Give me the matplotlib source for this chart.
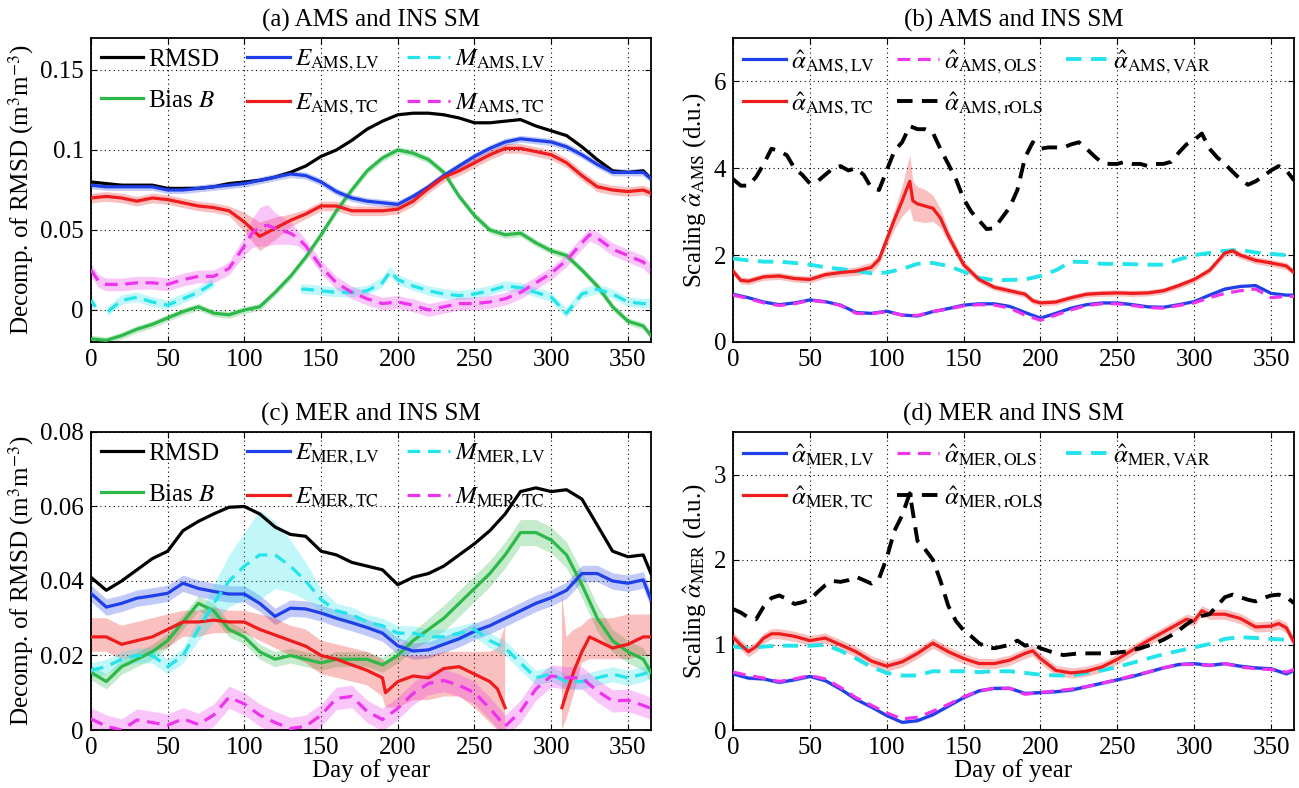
import numpy as np
import matplotlib
matplotlib.use("Agg")
import matplotlib.pyplot as plt

plt.rcParams['font.family'] = ['Liberation Serif', 'DejaVu Serif']
plt.rcParams['mathtext.fontset'] = 'stix'

# ---------------- common day grid ----------------
D10 = [0, 10, 20, 30, 40, 50, 60, 70, 80, 90, 100, 110, 120, 130, 140, 150, 160, 170, 180,
       190, 200, 210, 220, 230, 240, 250, 260, 270, 280, 290, 300, 310, 320, 330, 340, 350,
       360, 365]
D5 = list(range(0, 366, 5))

# ---------------- panel (a): AMS decomposition ----------------
rmsd_a = [0.080, 0.079, 0.078, 0.078, 0.078, 0.076, 0.076, 0.076, 0.077, 0.079, 0.080, 0.081,
          0.083, 0.086, 0.090, 0.096, 0.100, 0.106, 0.113, 0.118, 0.122, 0.123, 0.123, 0.122,
          0.120, 0.117, 0.117, 0.118, 0.119, 0.115, 0.112, 0.109, 0.102, 0.094, 0.087, 0.086,
          0.087, 0.082]
e_lv_a = [0.078, 0.077, 0.077, 0.077, 0.077, 0.075, 0.075, 0.076, 0.077, 0.078, 0.079, 0.081,
          0.083, 0.085, 0.084, 0.080, 0.074, 0.070, 0.068, 0.067, 0.066, 0.071, 0.077, 0.084,
          0.090, 0.096, 0.101, 0.105, 0.107, 0.106, 0.105, 0.102, 0.097, 0.091, 0.086, 0.086,
          0.086, 0.082]
e_tc_a = [0.070, 0.071, 0.070, 0.068, 0.070, 0.069, 0.067, 0.065, 0.064, 0.062, 0.055, 0.046,
          0.051, 0.056, 0.060, 0.065, 0.065, 0.062, 0.062, 0.062, 0.063, 0.068, 0.076, 0.083,
          0.087, 0.092, 0.097, 0.101, 0.101, 0.099, 0.097, 0.092, 0.084, 0.077, 0.075, 0.074,
          0.075, 0.073]
e_tc_a_hw = [0.003] * 10 + [0.006, 0.009, 0.007, 0.004] + [0.003] * 24
bias_a = [-0.018, -0.019, -0.016, -0.012, -0.009, -0.005, -0.001, 0.002, -0.002, -0.003, 0.000,
          0.002, 0.011, 0.021, 0.033, 0.047, 0.062, 0.075, 0.087, 0.095, 0.100, 0.098, 0.094,
          0.086, 0.071, 0.059, 0.050, 0.047, 0.048, 0.042, 0.037, 0.034, 0.025, 0.015, 0.002,
          -0.007, -0.010, -0.016]
m_lv_a_days = [0, 3, 6, 11, 20, 30, 40, 50, 60, 70, 80, 85, 137, 140, 150, 160, 170, 180, 190,
               195, 200, 210, 220, 230, 240, 250, 260, 270, 280, 290, 300, 310, 320, 330, 340,
               350, 360, 365]
m_lv_a = [0.006, 0.002, np.nan, -0.001, 0.006, 0.008, 0.005, 0.003, 0.007, 0.011, 0.017, np.nan,
          0.013, 0.013, 0.012, 0.011, 0.011, 0.012, 0.017, 0.024, 0.019, 0.015, 0.012, 0.010,
          0.009, 0.010, 0.012, 0.015, 0.014, 0.011, 0.008, -0.002, 0.010, 0.013, 0.010, 0.005,
          0.004, 0.004]
m_tc_a_days = [0, 5, 10, 20, 30, 40, 50, 60, 70, 80, 90, 100, 105, 110, 115, 120, 130, 135, 140,
               150, 160, 170, 180, 190, 200, 210, 220, 230, 240, 250, 260, 270, 280, 290, 300,
               310, 320, 325, 330, 340, 350, 360, 365]
m_tc_a = [0.025, 0.018, 0.016, 0.016, 0.017, 0.017, 0.016, 0.019, 0.021, 0.021, 0.026, 0.040,
          0.048, 0.052, 0.053, 0.051, 0.048, 0.045, 0.040, 0.027, 0.017, 0.011, 0.007, 0.004,
          0.005, 0.003, 0.000, 0.002, 0.004, 0.004, 0.005, 0.007, 0.011, 0.017, 0.023, 0.031,
          0.042, 0.047, 0.045, 0.038, 0.034, 0.030, 0.025]
m_tc_a_hw = [0.004] * 11 + [0.006, 0.009, 0.012, 0.013, 0.010, 0.007, 0.005, 0.004] + [0.004] * 24

# ---------------- panel (b): AMS scaling ----------------
a_lv_b = [1.10, 1.02, 0.92, 0.86, 0.90, 0.97, 0.93, 0.85, 0.68, 0.66, 0.71, 0.62, 0.60, 0.70,
          0.77, 0.85, 0.88, 0.88, 0.82, 0.68, 0.55, 0.66, 0.78, 0.86, 0.90, 0.90, 0.86, 0.81,
          0.80, 0.86, 0.93, 1.08, 1.22, 1.28, 1.30, 1.12, 1.08, 1.08]
a_ols_b = [1.08, 1.00, 0.90, 0.84, 0.88, 0.96, 0.92, 0.84, 0.66, 0.65, 0.70, 0.62, 0.61, 0.70,
           0.76, 0.83, 0.86, 0.85, 0.78, 0.62, 0.50, 0.62, 0.74, 0.84, 0.88, 0.88, 0.84, 0.79,
           0.78, 0.84, 0.90, 1.02, 1.12, 1.18, 1.22, 1.02, 1.05, 1.05]
a_tc_b_days = [0, 5, 10, 20, 30, 40, 50, 60, 70, 80, 90, 95, 100, 105, 110, 115, 117, 120, 125,
               130, 135, 140, 150, 160, 170, 180, 190, 195, 200, 210, 220, 230, 240, 250, 260,
               270, 280, 290, 300, 310, 320, 325, 330, 340, 350, 360, 365]
a_tc_b = [1.63, 1.42, 1.40, 1.50, 1.52, 1.46, 1.44, 1.55, 1.60, 1.63, 1.72, 1.90, 2.36, 2.82,
          3.25, 3.70, 3.25, 3.18, 3.13, 3.08, 2.85, 2.45, 1.78, 1.44, 1.26, 1.18, 1.10, 0.95,
          0.90, 0.92, 1.02, 1.10, 1.12, 1.13, 1.12, 1.13, 1.18, 1.30, 1.44, 1.65, 2.05, 2.10,
          2.00, 1.88, 1.82, 1.75, 1.60]
a_tc_b_hw = ([0.09, 0.08, 0.08, 0.08, 0.08, 0.08, 0.08, 0.08, 0.09, 0.10]
             + [0.12, 0.12, 0.15, 0.22, 0.35, 0.62, 0.45, 0.40, 0.38, 0.30]
             + [0.22, 0.15, 0.10, 0.08, 0.07, 0.07, 0.07, 0.07, 0.07, 0.07]
             + [0.07] * 10 + [0.08] * 7)
a_var_b = [1.92, 1.88, 1.85, 1.85, 1.82, 1.78, 1.72, 1.68, 1.64, 1.58, 1.60, 1.68, 1.80, 1.82,
           1.75, 1.62, 1.48, 1.42, 1.43, 1.44, 1.52, 1.65, 1.85, 1.84, 1.80, 1.80, 1.79, 1.78,
           1.78, 1.90, 2.00, 2.05, 2.10, 2.12, 2.06, 2.03, 2.00, 1.99]
a_rols_b = [3.75, 3.60, 3.60, 3.80, 4.10, 4.45, 4.40, 4.30, 4.00, 3.85,
            3.65, 3.70, 3.85, 4.00, 4.05, 3.95, 4.00, 3.85, 3.55, 3.50,
            3.95, 4.40, 4.60, 4.97, 4.90, 4.90, 4.82, 4.44, 4.10, 3.75,
            3.30, 3.00, 2.80, 2.60, 2.62, 2.86, 3.10, 3.50, 4.25, 4.60,
            4.45, 4.48, 4.48, 4.48, 4.55, 4.60, 4.45, 4.28, 4.13, 4.10,
            4.10, 4.15, 4.10, 4.10, 4.05, 4.10, 4.10, 4.15, 4.36, 4.55,
            4.65, 4.80, 4.45, 4.25, 4.10, 3.92, 3.75, 3.62, 3.70, 3.82,
            3.95, 4.05, 3.95, 3.72]

# ---------------- panel (c): MER decomposition ----------------
rmsd_c = [0.041, 0.0375, 0.040, 0.043, 0.046, 0.048, 0.0535, 0.056, 0.058, 0.0598, 0.060, 0.058,
          0.0545, 0.0525, 0.052, 0.048, 0.047, 0.045, 0.044, 0.043, 0.039, 0.041, 0.042, 0.044,
          0.047, 0.050, 0.0535, 0.058, 0.064, 0.065, 0.064, 0.0645, 0.062, 0.055, 0.048,
          0.0465, 0.047, 0.042]
e_lv_c = [0.0367, 0.033, 0.034, 0.0354, 0.036, 0.0367, 0.0394, 0.038, 0.0372, 0.0365, 0.0365,
          0.034, 0.0305, 0.0327, 0.0325, 0.0314, 0.030, 0.0288, 0.0275, 0.026, 0.0226, 0.0212,
          0.0215, 0.023, 0.0245, 0.0265, 0.028, 0.030, 0.032, 0.034, 0.0355, 0.0375, 0.042,
          0.042, 0.040, 0.0394, 0.0403, 0.035]
e_tc_c_days = [0, 10, 20, 30, 40, 50, 60, 70, 80, 90, 100, 110, 120, 130, 140, 150, 160, 170,
               180, 190, 192, 200, 210, 220, 230, 240, 250, 260, 265, 270, 271, 306, 307, 310,
               315, 320, 325, 330, 340, 350, 360, 365]
e_tc_c = [0.025, 0.025, 0.023, 0.024, 0.025, 0.027, 0.029, 0.029, 0.0295, 0.029,
          0.029, 0.027, 0.0255, 0.024, 0.0225, 0.020, 0.019, 0.0175, 0.016, 0.014,
          0.010, 0.013, 0.0145, 0.014, 0.0165, 0.017, 0.015, 0.013,
          0.011, 0.006, np.nan, np.nan, 0.006, 0.010, 0.016, 0.021, 0.025, 0.024,
          0.022, 0.023, 0.025, 0.025]
e_tc_c_lo = [0.021, 0.021, 0.019, 0.020, 0.021, 0.022, 0.025, 0.025, 0.026, 0.026,
             0.026, 0.024, 0.022, 0.020, 0.018, 0.015, 0.014, 0.013, 0.012, 0.009,
             0.006, 0.006, 0.008, 0.008, 0.009, 0.009, 0.006, 0.002,
             0.000, 0.000, np.nan, np.nan, 0.000, 0.003, 0.010, 0.018, 0.019, 0.019,
             0.019, 0.019, 0.020, 0.020]
e_tc_c_hi = [0.030, 0.030, 0.028, 0.029, 0.030, 0.031, 0.032, 0.032, 0.033, 0.032,
             0.032, 0.031, 0.030, 0.028, 0.027, 0.024, 0.023, 0.022, 0.021, 0.019,
             0.018, 0.020, 0.020, 0.020, 0.021, 0.021, 0.021, 0.021,
             0.022, 0.028, np.nan, np.nan, 0.037, 0.025, 0.027, 0.028, 0.030, 0.030,
             0.030, 0.031, 0.031, 0.031]
bias_c = [0.0155, 0.013, 0.017, 0.019, 0.021, 0.024, 0.029, 0.034, 0.032, 0.027, 0.025, 0.021,
          0.019, 0.020, 0.019, 0.018, 0.019, 0.019, 0.019, 0.0175, 0.020, 0.024, 0.027, 0.030,
          0.034, 0.038, 0.042, 0.047, 0.053, 0.053, 0.051, 0.047, 0.039, 0.030, 0.024, 0.021,
          0.019, 0.0155]
bias_c_hw = [0.002] * 21 + [0.0025, 0.003] + [0.0035] * 11 + [0.003] * 4
m_lv_c = [0.016, 0.017, 0.019, 0.020, 0.020, 0.017, 0.020, 0.027, 0.034, 0.040, 0.044, 0.047,
          0.047, 0.044, 0.040, 0.035, 0.032, 0.031, 0.029, 0.028, 0.026, 0.026, 0.025, 0.025,
          0.026, 0.027, 0.024, 0.022, 0.018, 0.014, 0.015, 0.013, 0.013, 0.014, 0.015, 0.014,
          0.015, 0.016]
m_lv_c_hw = ([0.002] * 7 + [0.003, 0.005, 0.007, 0.009, 0.012, 0.009, 0.007, 0.005, 0.003]
             + [0.002] * 22)
m_tc_c = [0.003, 0.001, 0.000, 0.0027, 0.002, 0.0013, 0.003, 0.0015, 0.004, 0.0088, 0.007,
          0.004, 0.002, 0.0004, 0.001, 0.004, 0.0085, 0.009, 0.005, 0.0028, 0.0058, 0.0098,
          0.0125, 0.0133, 0.012, 0.010, 0.0058, 0.001, 0.005, 0.011, 0.0145, 0.014, 0.014,
          0.0105, 0.0078, 0.008, 0.0066, 0.0058]

# ---------------- panel (d): MER scaling ----------------
a_lv_d = [0.66, 0.61, 0.60, 0.56, 0.59, 0.63, 0.58, 0.48, 0.36, 0.27, 0.17, 0.09, 0.11, 0.18,
          0.28, 0.38, 0.46, 0.49, 0.49, 0.43, 0.44, 0.45, 0.47, 0.51, 0.55, 0.59, 0.63, 0.68,
          0.73, 0.77, 0.78, 0.76, 0.78, 0.75, 0.73, 0.72, 0.66, 0.70]
a_ols_d = [0.68, 0.64, 0.61, 0.57, 0.60, 0.64, 0.60, 0.50, 0.38, 0.29, 0.20, 0.13, 0.15, 0.22,
           0.30, 0.39, 0.46, 0.49, 0.49, 0.42, 0.44, 0.46, 0.48, 0.51, 0.55, 0.59, 0.64, 0.68,
           0.73, 0.77, 0.77, 0.76, 0.78, 0.74, 0.72, 0.71, 0.68, 0.71]
a_tc_d_days = [0, 5, 10, 15, 20, 25, 30, 40, 50, 60, 70, 80, 90, 100, 110, 120, 130, 140, 150,
               160, 170, 180, 190, 195, 200, 210, 220, 230, 240, 250, 260, 270, 280, 290, 295,
               300, 305, 310, 320, 330, 340, 350, 355, 360, 365]
a_tc_d = [1.09, 1.00, 0.92, 0.98, 1.08, 1.13, 1.13, 1.10, 1.05, 1.08, 1.00, 0.92, 0.81, 0.75,
          0.80, 0.90, 1.02, 0.92, 0.84, 0.78, 0.78, 0.82, 0.90, 0.93, 0.84, 0.70, 0.67, 0.69,
          0.74, 0.83, 0.94, 1.05, 1.15, 1.25, 1.30, 1.28, 1.40, 1.36, 1.36, 1.31, 1.21, 1.22,
          1.25, 1.20, 1.03]
a_var_d = [0.98, 0.96, 0.98, 0.99, 0.99, 0.99, 1.00, 0.93, 0.84, 0.74, 0.67, 0.64, 0.64, 0.69,
           0.69, 0.69, 0.68, 0.69, 0.69, 0.67, 0.65, 0.64, 0.64, 0.67, 0.70, 0.74, 0.79, 0.84,
           0.89, 0.93, 0.97, 1.01, 1.07, 1.09, 1.08, 1.07, 1.06, 1.05]
a_rols_d = [1.42, 1.38, 1.32, 1.30, 1.45, 1.55, 1.58, 1.54, 1.48, 1.50,
            1.53, 1.62, 1.70, 1.75, 1.74, 1.76, 1.80, 1.76, 1.72, 1.78,
            2.02, 2.34, 2.52, 2.78, 2.22, 2.12, 2.00, 1.75, 1.46, 1.28,
            1.17, 1.10, 1.02, 0.97, 0.96, 0.98, 1.00, 1.05, 0.99, 1.01,
            0.96, 0.93, 0.90, 0.88, 0.89, 0.90, 0.90, 0.90, 0.90, 0.90,
            0.91, 0.92, 0.94, 0.96, 0.99, 1.02, 1.06, 1.11, 1.17, 1.24,
            1.30, 1.34, 1.36, 1.46, 1.56, 1.59, 1.56, 1.53, 1.51, 1.55,
            1.58, 1.59, 1.56, 1.49]

# ---------------- styling ----------------
C_K = '#000000'
C_B = '#1f3fe8'
C_R = '#ee1c1c'
C_G = '#2db84a'
C_C = '#22e4ea'
C_M = '#ee33ee'

X_TICKS = [0, 50, 100, 150, 200, 250, 300, 350]
FS = 18
FS_LEG = 18


def draw(ax, x, y, color, hw=None, lo=None, hi=None, dashed=False, lw=2.3, label=None,
         alpha=0.28, dashes=(4, 2.4)):
    x = np.asarray(x, float)
    y = np.asarray(y, float)
    if hw is not None:
        h = np.asarray(hw, float)
        ax.fill_between(x, y - h, y + h, color=color, alpha=alpha, lw=0, zorder=2)
    if lo is not None:
        ax.fill_between(x, np.asarray(lo, float), np.asarray(hi, float), color=color,
                        alpha=alpha, lw=0, zorder=2)
    ln, = ax.plot(x, y, color=color, lw=lw, label=label, zorder=3)
    if dashed:
        ln.set_dashes(dashes)
    return ln


def style(ax, ylim, yticks, yticklabels, ylabel, title, xlabel=False):
    ax.set_xlim(0, 365)
    ax.set_ylim(*ylim)
    ax.set_xticks(X_TICKS)
    ax.set_xticklabels([str(t) for t in X_TICKS], fontsize=FS)
    ax.set_yticks(yticks)
    ax.set_yticklabels(yticklabels, fontsize=FS)
    ax.grid(True, color='k', lw=0.8, linestyle=(0, (1, 3)))
    ax.set_axisbelow(True)
    ax.tick_params(direction='in', length=4, top=True, right=True, pad=5)
    for s in ax.spines.values():
        s.set_linewidth(1.3)
    ax.set_ylabel(ylabel, fontsize=FS, labelpad=3)
    ax.set_title(title, fontsize=FS, pad=8)
    if xlabel:
        ax.set_xlabel('Day of year', fontsize=FS, labelpad=0)


fig = plt.figure(figsize=(12.99, 7.88), dpi=100)
ax_a = fig.add_axes([0.0700, 0.5660, 0.4311, 0.3858])
ax_b = fig.add_axes([0.5643, 0.5660, 0.4319, 0.3858])
ax_c = fig.add_axes([0.0700, 0.0736, 0.4311, 0.3782])
ax_d = fig.add_axes([0.5643, 0.0736, 0.4319, 0.3782])

leg_kw = dict(loc='upper left', ncol=3, frameon=False, fontsize=FS_LEG, handlelength=1.7,
              handletextpad=0.2, borderaxespad=0.1, borderpad=0.3)

# (a)
l_rm = draw(ax_a, D10, rmsd_a, C_K, label='RMSD')
l_bi = draw(ax_a, D10, bias_a, C_G, hw=0.0022, label='Bias $B$')
l_el = draw(ax_a, D10, e_lv_a, C_B, hw=0.0022, label=r'$E_{\mathrm{AMS,LV}}$')
l_et = draw(ax_a, D10, e_tc_a, C_R, hw=e_tc_a_hw, label=r'$E_{\mathrm{AMS,TC}}$')
l_ml = draw(ax_a, m_lv_a_days, m_lv_a, C_C, hw=0.003, dashed=True, label=r'$M_{\mathrm{AMS,LV}}$')
l_mt = draw(ax_a, m_tc_a_days, m_tc_a, C_M, hw=m_tc_a_hw, dashed=True,
            label=r'$M_{\mathrm{AMS,TC}}$')
ax_a.legend(handles=[l_rm, l_bi, l_el, l_et, l_ml, l_mt], labelspacing=0.75,
            columnspacing=1.1, **leg_kw)
style(ax_a, (-0.02, 0.17), [0, 0.05, 0.1, 0.15], ['0', '0.05', '0.1', '0.15'],
      'Decomp. of RMSD (m$^3$m$^{-3}$)', '(a) AMS and INS SM')

# (b)
l1 = draw(ax_b, D10, a_lv_b, C_B, hw=0.03, label=r'$\hat{\alpha}_{\mathrm{AMS,LV}}$')
l2 = draw(ax_b, D10, a_ols_b, C_M, dashed=True, label=r'$\hat{\alpha}_{\mathrm{AMS,OLS}}$')
l3 = draw(ax_b, D10, a_var_b, C_C, dashed=True, lw=2.8, label=r'$\hat{\alpha}_{\mathrm{AMS,VAR}}$')
l4 = draw(ax_b, a_tc_b_days, a_tc_b, C_R, hw=a_tc_b_hw, label=r'$\hat{\alpha}_{\mathrm{AMS,TC}}$')
l5 = draw(ax_b, D5, a_rols_b, C_K, dashed=True, lw=2.8, label=r'$\hat{\alpha}_{\mathrm{AMS,rOLS}}$')
ax_b.legend(handles=[l1, l4, l2, l5, l3], labelspacing=0.55, columnspacing=0.9, **leg_kw)
style(ax_b, (0, 7), [0, 2, 4, 6], ['0', '2', '4', '6'],
      r'Scaling $\hat{\alpha}_{\mathrm{AMS}}$ (d.u.)', '(b) AMS and INS SM')

# (c)
l_rm = draw(ax_c, D10, rmsd_c, C_K, label='RMSD')
l_bi = draw(ax_c, D10, bias_c, C_G, hw=bias_c_hw, label='Bias $B$')
l_el = draw(ax_c, D10, e_lv_c, C_B, hw=0.0022, label=r'$E_{\mathrm{MER,LV}}$')
l_et = draw(ax_c, e_tc_c_days, e_tc_c, C_R, lo=e_tc_c_lo, hi=e_tc_c_hi,
            label=r'$E_{\mathrm{MER,TC}}$')
l_ml = draw(ax_c, D10, m_lv_c, C_C, hw=m_lv_c_hw, dashed=True, label=r'$M_{\mathrm{MER,LV}}$')
l_mt = draw(ax_c, D10, m_tc_c, C_M, hw=0.003, dashed=True, label=r'$M_{\mathrm{MER,TC}}$')
ax_c.legend(handles=[l_rm, l_bi, l_el, l_et, l_ml, l_mt], labelspacing=0.75,
            columnspacing=1.1, **leg_kw)
style(ax_c, (0, 0.08), [0, 0.02, 0.04, 0.06, 0.08], ['0', '0.02', '0.04', '0.06', '0.08'],
      'Decomp. of RMSD (m$^3$m$^{-3}$)', '(c) MER and INS SM', xlabel=True)

# (d)
l1 = draw(ax_d, D10, a_lv_d, C_B, hw=0.02, label=r'$\hat{\alpha}_{\mathrm{MER,LV}}$')
l2 = draw(ax_d, D10, a_ols_d, C_M, dashed=True, label=r'$\hat{\alpha}_{\mathrm{MER,OLS}}$')
l3 = draw(ax_d, D10, a_var_d, C_C, dashed=True, lw=2.8, label=r'$\hat{\alpha}_{\mathrm{MER,VAR}}$')
l4 = draw(ax_d, a_tc_d_days, a_tc_d, C_R, hw=0.06, label=r'$\hat{\alpha}_{\mathrm{MER,TC}}$')
l5 = draw(ax_d, D5, a_rols_d, C_K, dashed=True, lw=2.8, label=r'$\hat{\alpha}_{\mathrm{MER,rOLS}}$')
ax_d.legend(handles=[l1, l4, l2, l5, l3], labelspacing=0.55, columnspacing=0.9, **leg_kw)
style(ax_d, (0, 3.5), [0, 1, 2, 3], ['0', '1', '2', '3'],
      r'Scaling $\hat{\alpha}_{\mathrm{MER}}$ (d.u.)', '(d) MER and INS SM', xlabel=True)

fig.savefig('out.png', dpi=100)
